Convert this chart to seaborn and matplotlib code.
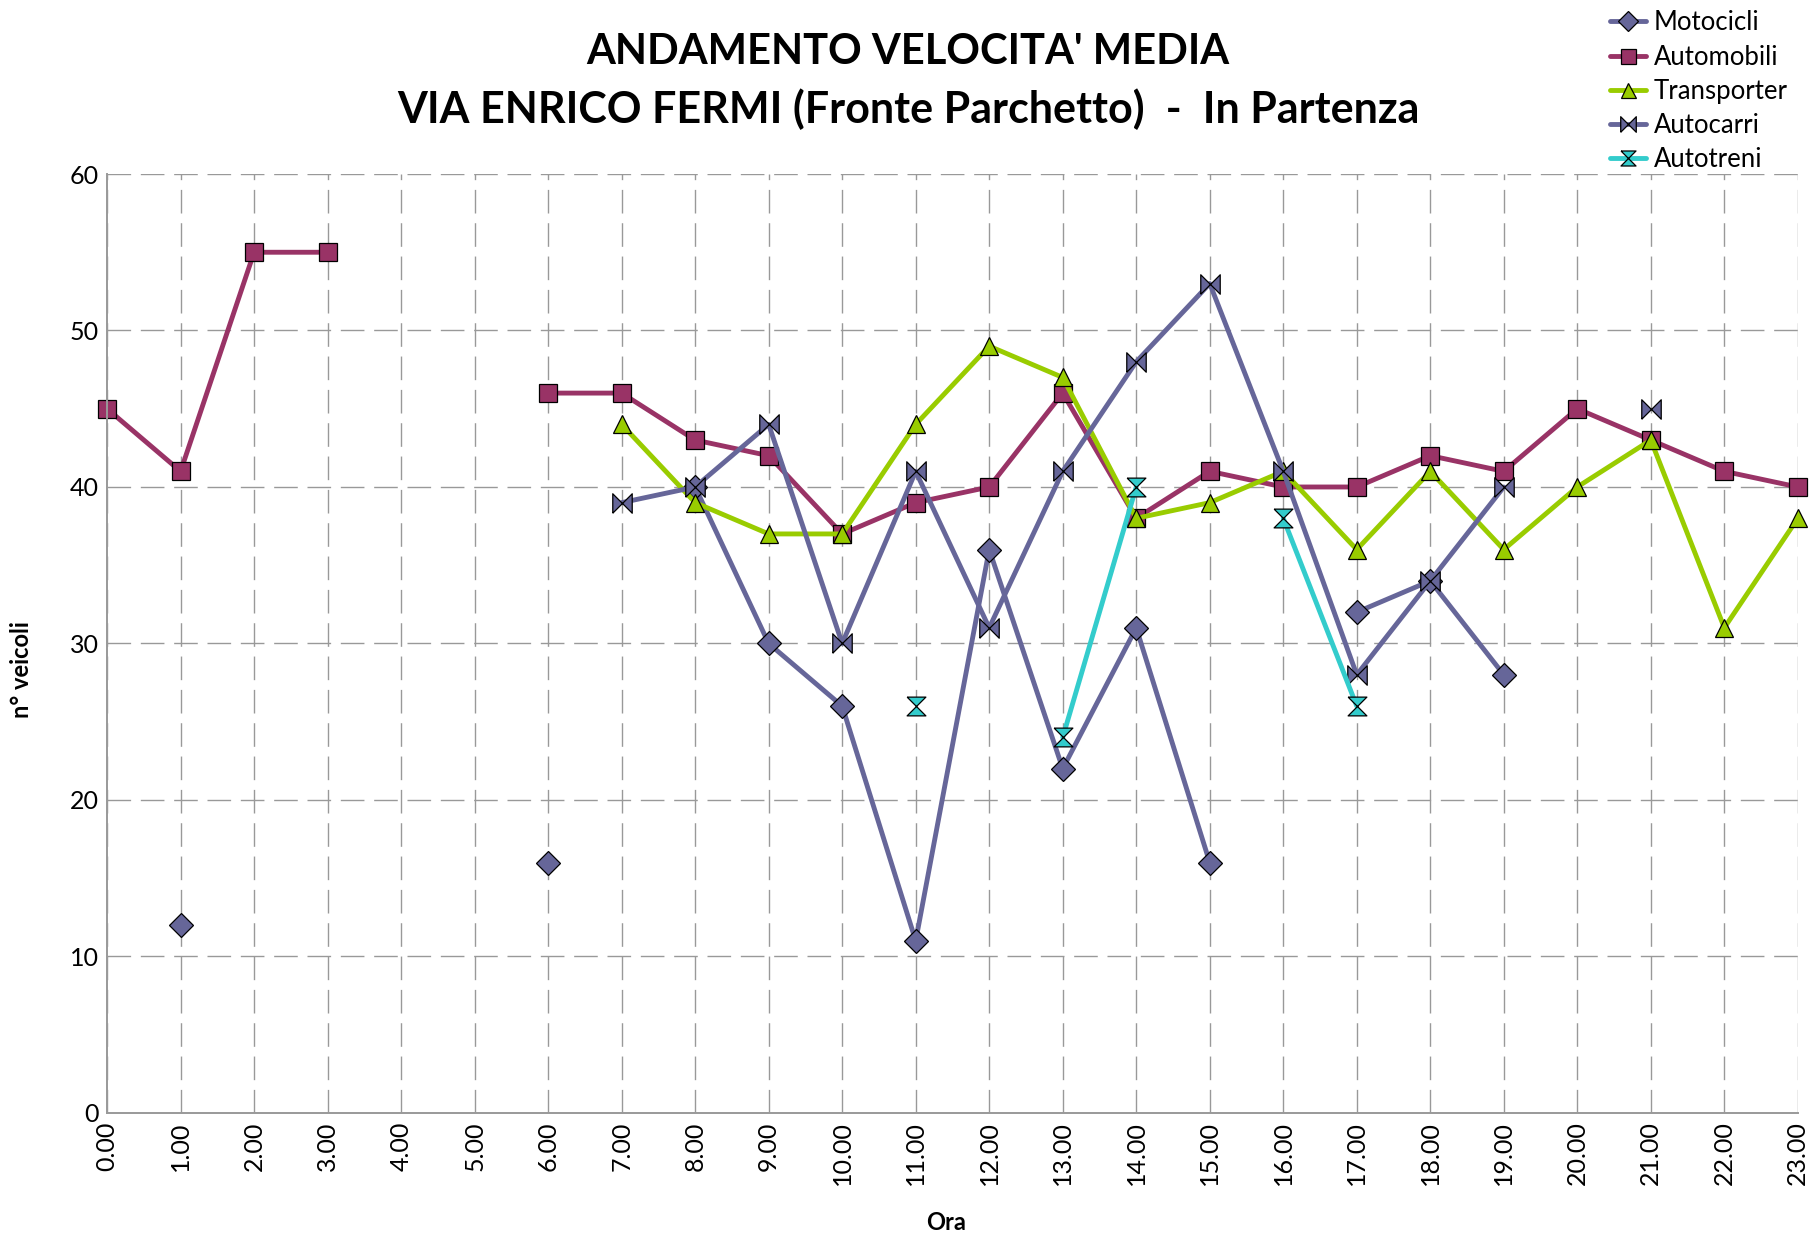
import numpy as np
import pandas as pd
import matplotlib
matplotlib.use("Agg")
import matplotlib.pyplot as plt
from matplotlib.lines import Line2D
import seaborn as sns

nan = np.nan
hours = list(range(24))
hour_labels = [f"{h}.00" for h in hours]

motocicli = [nan, 12, nan, nan, nan, nan, 16, nan, 40, 30, 26, 11, 36, 22, 31, 16,
             nan, 32, 34, 28, nan, nan, nan, nan]
automobili = [45, 41, 55, 55, nan, nan, 46, 46, 43, 42, 37, 39, 40, 46, 38, 41,
              40, 40, 42, 41, 45, 43, 41, 40]
transporter = [nan, nan, nan, nan, nan, nan, nan, 44, 39, 37, 37, 44, 49, 47, 38, 39,
               41, 36, 41, 36, 40, 43, 31, 38]
autocarri = [nan, nan, nan, nan, nan, nan, nan, 39, 40, 44, 30, 41, 31, 41, 48, 53,
             41, 28, 34, 40, nan, 45, nan, nan]
autotreni = [nan, nan, nan, nan, nan, nan, nan, nan, nan, nan, nan, 26, nan, 24, 40, nan,
             38, 26, nan, nan, nan, nan, nan, nan]

series_names = ["Motocicli", "Automobili", "Transporter", "Autocarri", "Autotreni"]
series_values = [motocicli, automobili, transporter, autocarri, autotreni]
colors = ["#666699", "#993366", "#99cc00", "#666699", "#33cccc"]

bowtie = [(-1, -1), (-1, 1), (1, -1), (1, 1), (-1, -1)]
hourglass = [(-1, 1), (1, 1), (-1, -1), (1, -1), (-1, 1)]
markers = ["D", "s", "^", bowtie, hourglass]
msizes = [12.5, 13.5, 13.5, 14, 13.5]

sns.set_style("white")
plt.rcParams["font.family"] = ["Lato", "DejaVu Sans"]
plt.rcParams["text.color"] = "black"
plt.rcParams["axes.labelcolor"] = "black"
plt.rcParams["xtick.color"] = "black"
plt.rcParams["ytick.color"] = "black"

fig = plt.figure(figsize=(18.18, 12.42), dpi=100)
ax = fig.add_axes([0.0589, 0.1039, 0.930, 0.756])

for name, vals, c, m, ms in zip(series_names, series_values, colors, markers, msizes):
    df = pd.DataFrame({"hour": hours, "value": vals})
    df["seg"] = df["value"].isna().cumsum()
    df = df.dropna()
    sns.lineplot(data=df, x="hour", y="value", units="seg", estimator=None,
                 color=c, lw=3.5, marker=m, markersize=ms, mec="black", mew=0.9,
                 legend=False, ax=ax, clip_on=False)

ax.set_xlim(0, 23)
ax.set_ylim(0, 60)
ax.set_xticks(hours)
ax.set_xticklabels(hour_labels, rotation=90, fontsize=18)
ax.set_yticks(range(0, 61, 10))
ax.set_yticklabels([str(v) for v in range(0, 61, 10)], fontsize=18)
ax.grid(True, color="#999999", lw=1.0, linestyle=(0, (17, 7)))
ax.set_axisbelow(True)
for s in ["top", "right"]:
    ax.spines[s].set_visible(False)
for s in ["left", "bottom"]:
    ax.spines[s].set_color("#999999")
    ax.spines[s].set_linewidth(1.4)
ax.tick_params(axis="x", length=0, pad=6)
ax.tick_params(axis="y", length=0, pad=6)
ax.set_xlabel("Ora", fontsize=17, fontweight="bold")
ax.set_ylabel("n° veicoli", fontsize=17, fontweight="bold")
ax.xaxis.set_label_coords(0.496, -0.104)
ax.yaxis.set_label_coords(-0.044, 0.472)

fig.text(0.4995, 0.9585, "ANDAMENTO VELOCITA' MEDIA", ha="center", va="center",
         fontsize=30, fontweight="bold")
fig.text(0.4995, 0.9118, "VIA ENRICO FERMI (Fronte Parchetto)  -  In Partenza",
         ha="center", va="center", fontsize=31, fontweight="bold")

handles = [Line2D([0], [0], color=c, lw=3.5, marker=m, markersize=ms * 0.8,
                  mec="black", mew=0.9)
           for c, m, ms in zip(colors, markers, msizes)]
fig.legend(handles, series_names, loc="upper left", bbox_to_anchor=(1600 / 1818, 1.0),
           frameon=False, fontsize=18.5, handlelength=1.4, handletextpad=0.3,
           labelspacing=0.36, borderaxespad=0)

fig.savefig("out.png", dpi=100)
